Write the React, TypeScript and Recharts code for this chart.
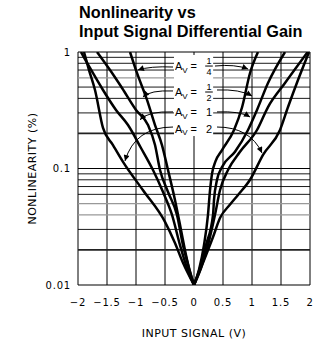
import React from 'react';
import { LineChart, Line, XAxis, YAxis, ReferenceLine } from 'recharts';

const CHART_W = 317;
const CHART_H = 347;
const MARGIN = { top: 52, right: 7, bottom: 32, left: 0 };
const Y_AXIS_W = 78;
const X_AXIS_H = 30;

// plot area derived from the layout above
const PLOT_L = MARGIN.left + Y_AXIS_W;
const PLOT_R = CHART_W - MARGIN.right;
const PLOT_T = MARGIN.top;
const PLOT_B = CHART_H - MARGIN.bottom - X_AXIS_H;

const X_MIN = -2;
const X_MAX = 2;
const Y_MIN = 0.01;
const Y_MAX = 1;

const xTicks = [-2, -1.5, -1, -0.5, 0, 0.5, 1, 1.5, 2];
const yTicks = [0.01, 0.1, 1];
const yTickLabels = ['0.01', '0.1', '1'];
const gridMinor = [0.03, 0.06, 0.07, 0.08, 0.09, 0.3, 0.4, 0.5, 0.7, 0.8, 0.9];
const gridGray = [0.04, 0.05, 0.6];
const gridHeavy = [0.02, 0.2];

// curves: [input signal (V), nonlinearity (%)]
const rightQuarter = [[0, 0.01], [0.086, 0.0135], [0.172, 0.022], [0.241, 0.04], [0.276, 0.065], [0.31, 0.09], [0.37, 0.115], [0.483, 0.144], [0.69, 0.214], [0.83, 0.337], [0.966, 0.66], [1.103, 1]];
const rightHalf = [[0, 0.01], [0.103, 0.014], [0.207, 0.022], [0.328, 0.04], [0.345, 0.0537], [0.397, 0.08], [0.483, 0.103], [0.707, 0.139], [0.931, 0.214], [1.086, 0.318], [1.276, 0.542], [1.569, 1]];
const rightUnity = [[0, 0.01], [0.121, 0.014], [0.241, 0.022], [0.362, 0.04], [0.448, 0.065], [0.586, 0.097], [0.793, 0.139], [1.086, 0.214], [1.276, 0.337], [1.569, 0.542], [1.96, 1]];
const rightDouble = [[0, 0.01], [0.155, 0.0155], [0.328, 0.0258], [0.448, 0.0376], [0.621, 0.049], [0.759, 0.0593], [0.966, 0.08], [1.19, 0.131], [1.483, 0.214], [1.621, 0.337], [1.793, 0.575], [1.983, 1]];

const leftQuarter = [[-1.103, 1], [-0.983, 0.661], [-0.81, 0.388], [-0.672, 0.236], [-0.552, 0.159], [-0.448, 0.097], [-0.328, 0.0537], [-0.224, 0.0297], [-0.138, 0.0181], [-0.069, 0.0129], [0, 0.01]];
const leftUnity = [[-1.672, 1], [-1.448, 0.7], [-1.241, 0.491], [-1.0, 0.318], [-0.793, 0.236], [-0.672, 0.159], [-0.586, 0.097], [-0.448, 0.0628], [-0.293, 0.04], [-0.19, 0.022], [-0.086, 0.014], [0, 0.01]];
const leftHalf = [[-1.948, 1], [-1.793, 0.729], [-1.569, 0.472], [-1.345, 0.318], [-1.138, 0.236], [-0.914, 0.15], [-0.707, 0.097], [-0.534, 0.0628], [-0.379, 0.04], [-0.241, 0.022], [-0.121, 0.014], [0, 0.01]];
const leftDouble = [[-1.897, 1], [-1.81, 0.7], [-1.707, 0.472], [-1.569, 0.223], [-1.397, 0.159], [-1.224, 0.114], [-0.879, 0.065], [-0.5, 0.0348], [-0.328, 0.0229], [-0.19, 0.0155], [0, 0.01]];

const curves = [rightQuarter, rightHalf, rightUnity, rightDouble, leftQuarter, leftUnity, leftHalf, leftDouble];

// gain labels: numerator/denominator (denominator 0 => integer), baseline level
const gainNum = [1, 1, 1, 2];
const gainDen = [4, 2, 0, 0];
const gainBaseline = [0.7, 0.419, 0.2795, 0.2037];

// annotation arrows (data coordinates): from, control, to
const arrowFrom = [
  [-0.362, 0.743], [-0.362, 0.463], [-0.362, 0.306], [-0.362, 0.227],
  [0.362, 0.758], [0.397, 0.472], [0.397, 0.306], [0.397, 0.227],
];
const arrowCtrl = [
  [-0.759, 0.758], [-0.759, 0.472], [-0.793, 0.312], [-1.017, 0.227],
  [0.707, 0.789], [0.793, 0.481], [0.793, 0.312], [0.966, 0.227],
];
const arrowTo = [
  [-0.966, 0.7], [-0.88, 0.411], [-0.93, 0.262], [-1.19, 0.116],
  [0.931, 0.715], [1.0, 0.419], [0.966, 0.277], [1.172, 0.136],
];
const labelBox = { x0: -0.345, x1: 0.33, vTop: 0.943, vBot: 0.19 };

const toPts = (pairs: number[][]) => pairs.map(([x, v]) => ({ x, v }));

const sx = (x: number) => PLOT_L + ((x - X_MIN) / (X_MAX - X_MIN)) * (PLOT_R - PLOT_L);
const sy = (v: number) =>
  PLOT_T + ((Math.log10(Y_MAX) - Math.log10(v)) / (Math.log10(Y_MAX) - Math.log10(Y_MIN))) * (PLOT_B - PLOT_T);

const TICK_FONT = 'DejaVu Sans, sans-serif';
const LABEL_FONT = 'Liberation Sans, Arial, Helvetica, sans-serif';

const XTick = (props: any) => {
  const { x, y, payload } = props;
  const v = payload.value as number;
  const s = v < 0 ? '\u2212' + String(Math.abs(v)) : String(v);
  return (
    <text x={x} y={y + 21} textAnchor="middle" fontFamily={TICK_FONT} fontSize={10} letterSpacing={0.8} fill="#000">
      {s}
    </text>
  );
};

const YTick = (props: any) => {
  const { x, y, payload } = props;
  const idx = yTicks.indexOf(payload.value);
  return (
    <text x={x - 7} y={y + 3.7} textAnchor="end" fontFamily={TICK_FONT} fontSize={10} letterSpacing={0.8} fill="#000">
      {idx >= 0 ? yTickLabels[idx] : String(payload.value)}
    </text>
  );
};

const Overlay = () => {
  const ax = sx(labelBox.x0) + 1;
  return (
    <svg
      width={CHART_W}
      height={CHART_H}
      style={{ position: 'absolute', left: 0, top: 0, pointerEvents: 'none' }}
    >
      <defs>
        <marker id="ah" viewBox="0 0 10 10" refX="10" refY="5" markerWidth="8" markerHeight="6" orient="auto" markerUnits="userSpaceOnUse">
          <path d="M0,0 L10,5 L0,10 z" fill="#000" />
        </marker>
      </defs>
      <text x={79} y={18.3} fontFamily={LABEL_FONT} fontWeight="bold" fontSize={16.3} fill="#000">
        Nonlinearity vs
      </text>
      <text x={79} y={37.3} fontFamily={LABEL_FONT} fontWeight="bold" fontSize={16.3} fill="#000">
        Input Signal Differential Gain
      </text>
      <text
        x={(PLOT_L + PLOT_R) / 2}
        y={337}
        textAnchor="middle"
        fontFamily={TICK_FONT}
        fontSize={11}
        letterSpacing={0.5}
        fill="#000"
      >
        INPUT SIGNAL (V)
      </text>
      <text
        x={0}
        y={0}
        transform={`translate(36, ${(PLOT_T + PLOT_B) / 2}) rotate(-90)`}
        textAnchor="middle"
        fontFamily={TICK_FONT}
        fontSize={11}
        letterSpacing={0.5}
        fill="#000"
      >
        NONLINEARITY (%)
      </text>

      <rect
        x={sx(labelBox.x0)}
        y={sy(labelBox.vTop)}
        width={sx(labelBox.x1) - sx(labelBox.x0)}
        height={sy(labelBox.vBot) - sy(labelBox.vTop)}
        fill="#fff"
      />

      {arrowFrom.map((f, i) => {
        const c = arrowCtrl[i];
        const t = arrowTo[i];
        return (
          <path
            key={'a' + i}
            d={`M${sx(f[0])},${sy(f[1])} Q${sx(c[0])},${sy(c[1])} ${sx(t[0])},${sy(t[1])}`}
            fill="none"
            stroke="#000"
            strokeWidth={1}
            markerEnd="url(#ah)"
          />
        );
      })}

      {gainNum.map((n, i) => {
        const base = sy(gainBaseline[i]);
        const d = gainDen[i];
        const fx = ax + 34;
        return (
          <g key={'g' + i} fontFamily={LABEL_FONT} fill="#000">
            <text x={ax} y={base} fontSize={11}>A</text>
            <text x={ax + 7.3} y={base + 2.5} fontSize={8}>V</text>
            <text x={ax + 15.5} y={base} fontSize={11}>=</text>
            {d > 0 ? (
              <g>
                <text x={fx} y={base - 6} textAnchor="middle" fontSize={9}>{n}</text>
                <line x1={fx - 3.8} x2={fx + 3.8} y1={base - 4} y2={base - 4} stroke="#000" strokeWidth={1} />
                <text x={fx} y={base + 4.6} textAnchor="middle" fontSize={9}>{d}</text>
              </g>
            ) : (
              <text x={fx} y={base} textAnchor="middle" fontSize={11}>{n}</text>
            )}
          </g>
        );
      })}
    </svg>
  );
};

export default function App() {
  return (
    <div style={{ position: 'absolute', left: 0, top: 0, width: CHART_W, height: CHART_H, background: '#fff' }}>
      <LineChart width={CHART_W} height={CHART_H} margin={MARGIN}>
        <XAxis
          type="number"
          dataKey="x"
          domain={[X_MIN, X_MAX]}
          ticks={xTicks}
          allowDataOverflow
          axisLine={false}
          tickLine={false}
          tickSize={0}
          tickMargin={0}
          height={X_AXIS_H}
          tick={<XTick />}
          interval={0}
        />
        <YAxis
          type="number"
          scale="log"
          domain={[Y_MIN, Y_MAX]}
          ticks={yTicks}
          allowDataOverflow
          axisLine={false}
          tickLine={false}
          tickSize={0}
          tickMargin={0}
          width={Y_AXIS_W}
          tick={<YTick />}
          interval={0}
        />
        {xTicks.map((t) => (
          <ReferenceLine key={'vx' + t} x={t} stroke="#000" strokeWidth={1} ifOverflow="visible" />
        ))}
        {gridMinor.map((t) => (
          <ReferenceLine key={'hm' + t} y={t} stroke="#000" strokeWidth={0.9} ifOverflow="visible" />
        ))}
        {gridGray.map((t) => (
          <ReferenceLine key={'hg' + t} y={t} stroke="#999" strokeWidth={1.2} ifOverflow="visible" />
        ))}
        {gridHeavy.map((t) => (
          <ReferenceLine key={'hh' + t} y={t} stroke="#222" strokeWidth={1.8} ifOverflow="visible" />
        ))}
        {yTicks.map((t) => (
          <ReferenceLine key={'hd' + t} y={t} stroke="#000" strokeWidth={1.2} ifOverflow="visible" />
        ))}
        {curves.map((c, i) => (
          <Line
            key={'c' + i}
            data={toPts(c)}
            dataKey="v"
            type="monotone"
            dot={false}
            stroke="#000"
            strokeWidth={2.5}
            isAnimationActive={false}
          />
        ))}
      </LineChart>
      <Overlay />
    </div>
  );
}
